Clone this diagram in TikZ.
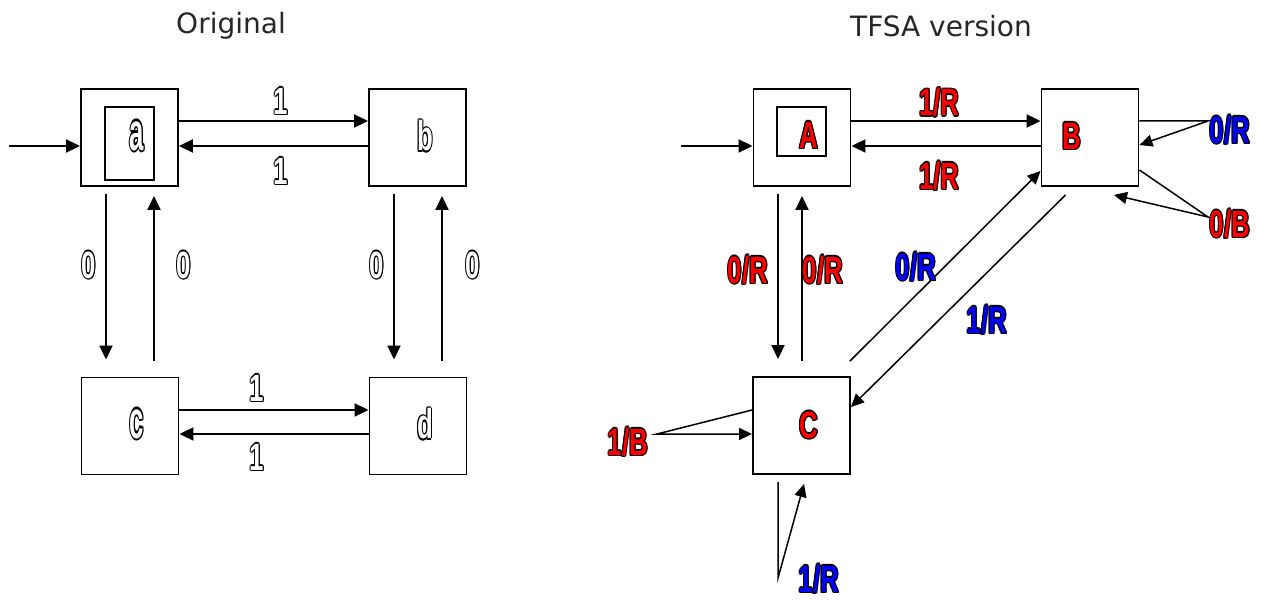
\documentclass[tikz,border=0pt]{standalone}
\usepackage{fontspec}
\usetikzlibrary{arrows.meta}
\newfontfamily\titlefont{DejaVu Sans}
\newfontfamily\lblfam{Liberation Sans}
\newlength\olw \setlength\olw{1.5pt}
\newcommand\olshift[2]{\rlap{\kern#1\raisebox{#2}{\color{black}\olcontent}}}
\newcommand\oltxt[2]{\begingroup\def\olcontent{#2}%
 \olshift{\olw}{0pt}\olshift{-\olw}{0pt}\olshift{0pt}{\olw}\olshift{0pt}{-\olw}%
 \olshift{.7\olw}{.7\olw}\olshift{-.7\olw}{.7\olw}\olshift{.7\olw}{-.7\olw}\olshift{-.7\olw}{-.7\olw}%
 \textcolor{#1}{#2}\endgroup}
\newcommand\lab[3][1]{\scalebox{0.68}[#1]{\lblfam\bfseries\fontsize{38}{38}\selectfont\oltxt{#2}{#3}}}
\tikzset{
 st/.style={draw, line width=1.9pt, minimum width=97pt, minimum height=97pt, inner sep=0pt},
 inr/.style={draw, line width=1.7pt, inner sep=0pt},
 lb/.style={inner sep=0pt},
 ttl/.style={font=\titlefont\fontsize{28}{28}\selectfont, text=black!85, inner sep=0pt},
 ar/.style={line width=2pt, -{Triangle[length=14pt,width=13pt]}},
 dg/.style={line width=1.5pt, -{Triangle[length=13pt,width=12pt]}},
}
\begin{document}
\begin{tikzpicture}[x=1pt,y=-1pt]
\useasboundingbox (0,0) rectangle (1261,601);
\node[ttl] (t1) at (231,26) {Original};
\node[ttl] (t2) at (941,26) {TFSA version};
% ---------- left ----------
\node[st] (a) at (129.5,137.5) {};
\node[inr, minimum width=49pt, minimum height=73pt] (ai) at (129.5,143.5) {};
\node[lb] (la) at (137,136) {\lab[1.4]{white}{a}};
\node[st] (b) at (417.5,137.5) {};
\node[lb] (lbb) at (425,136) {\lab[1.1]{white}{b}};
\node[st] (c) at (130,426) {};
\node[lb] (lc) at (137,424) {\lab[1.4]{white}{c}};
\node[st] (d) at (418,426) {};
\node[lb] (ld) at (425,424) {\lab[1.1]{white}{d}};
\coordinate (s0) at (9,146);
\draw[ar] (s0) -- (a.west |- s0);
\draw[ar] ([shift={(0,-16.5)}]a.east) -- ([shift={(0,-16.5)}]b.west);
\draw[ar] ([shift={(0,8.5)}]b.west) -- ([shift={(0,8.5)}]a.east);
\draw[ar] ([shift={(-23.5,7)}]a.south) -- ([shift={(-24,-17)}]c.north);
\draw[ar] ([shift={(24,-16)}]c.north) -- ([shift={(24.5,9)}]a.south);
\draw[ar] ([shift={(-23.5,7)}]b.south) -- ([shift={(-24,-17)}]d.north);
\draw[ar] ([shift={(24,-16)}]d.north) -- ([shift={(24.5,9)}]b.south);
\draw[ar] ([shift={(0,-16)}]c.east) -- ([shift={(0,-16)}]d.west);
\draw[ar] ([shift={(0,8)}]d.west) -- ([shift={(0,8)}]c.east);
\node[lb] (l1) at (281,101) {\lab{white}{1}};
\node[lb] (l2) at (281,171) {\lab{white}{1}};
\node[lb] (l3) at (257,388) {\lab{white}{1}};
\node[lb] (l4) at (257,457) {\lab{white}{1}};
\node[lb] (l5) at (89,265) {\lab{white}{0}};
\node[lb] (l6) at (184,265) {\lab{white}{0}};
\node[lb] (l7) at (377,265) {\lab{white}{0}};
\node[lb] (l8) at (473,265) {\lab{white}{0}};
% ---------- right ----------
\node[st] (A) at (802,137.5) {};
\node[inr, minimum width=49pt, minimum height=49pt] (Ai) at (801.5,131.5) {};
\node[lb] (lA) at (809,135) {\lab{red}{A}};
\node[st] (B) at (1090,137.5) {};
\node[lb] (lB) at (1072,136) {\lab{red}{B}};
\node[st] (C) at (801.5,425.5) {};
\node[lb] (lC) at (809,425) {\lab{red}{C}};
\coordinate (s1) at (681,146);
\draw[ar] (s1) -- (A.west |- s1);
\draw[ar] ([shift={(0,-16.5)}]A.east) -- ([shift={(0,-16.5)}]B.west);
\draw[ar] ([shift={(0,8.5)}]B.west) -- ([shift={(0,8.5)}]A.east);
\draw[ar] ([shift={(-24,7)}]A.south) -- ([shift={(-23.5,-17)}]C.north);
\draw[ar] ([shift={(0.5,-15)}]C.north) -- ([shift={(0,9)}]A.south);
\draw[dg] ([shift={(-1,-15)}]C.north east) -- ([shift={(0,-16)}]B.south west);
\draw[dg] ([shift={(25,8)}]B.south west) -- ([shift={(0,31)}]C.north east);
\coordinate (pR) at (1208,121);
\draw[dg] ([shift={(0,-16.5)}]B.east) -- (pR) -- ([shift={(0,7.5)}]B.east);
\coordinate (pB) at (1208,217);
\draw[dg] ([shift={(0,32.5)}]B.east) -- (pB) -- ([shift={(24,8)}]B.south);
\coordinate (pC1) at (657,434);
\draw[dg] ([shift={(0,-15.5)}]C.west) -- (pC1) -- ([shift={(0,8.5)}]C.west);
\coordinate (pC2) at (778,578);
\draw[dg] ([shift={(-23.5,7)}]C.south) -- (pC2) -- ([shift={(2.5,9)}]C.south);
\node[lb] (r1) at (939.5,102.5) {\lab{red}{1/R}};
\node[lb] (r2) at (939.5,176) {\lab{red}{1/R}};
\node[lb] (r3) at (748,270) {\lab{red}{0/R}};
\node[lb] (r4) at (823,270) {\lab{red}{0/R}};
\node[lb] (r5) at (916,267) {\lab{blue}{0/R}};
\node[lb] (r6) at (987,320) {\lab{blue}{1/R}};
\node[lb] (r7) at (1230,130) {\lab{blue}{0/R}};
\node[lb] (r8) at (1230,224) {\lab{red}{0/B}};
\node[lb] (r9) at (628,442) {\lab{red}{1/B}};
\node[lb] (r10) at (819,579) {\lab{blue}{1/R}};
\end{tikzpicture}
\end{document}
